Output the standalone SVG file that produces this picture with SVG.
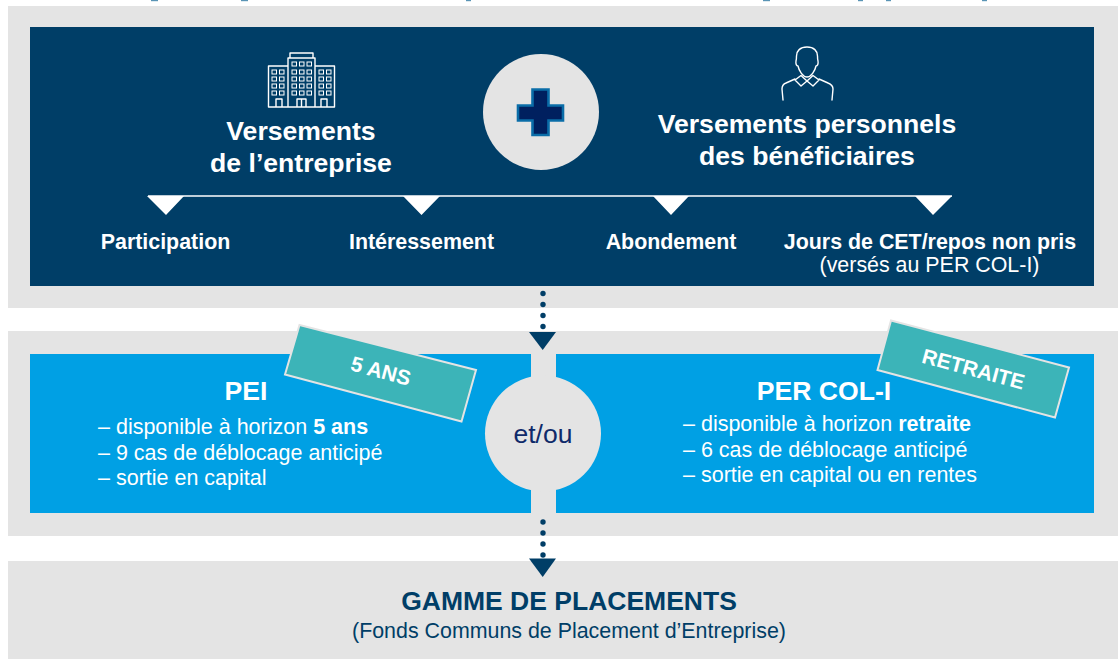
<svg xmlns="http://www.w3.org/2000/svg" width="1118" height="659" viewBox="0 0 1118 659">
<style>
text{font-family:"Liberation Sans",Arial,sans-serif}
.band{fill:#e4e4e4}
.navy{fill:#003e67}
.blue{fill:#00a0e4}
.h{font-weight:700;font-size:26.600px;fill:#fff;text-anchor:middle}
.sub{font-weight:700;font-size:21.400px;fill:#fff;text-anchor:middle}
.b{font-size:21.500px;fill:#fff}
.tag{fill:#3cb4b8;stroke:#e4e4e4;stroke-width:2}
.tagt{font-size:21px;font-weight:700;fill:#fff;text-anchor:middle}
.ic{fill:none;stroke:#fff;stroke-width:1.4;stroke-linejoin:round;stroke-linecap:round}
.w{fill:none;stroke:#fff;stroke-width:1}
.dot{fill:#003e67}
.frag{fill:#5a94b5}
</style>
<defs>
<g id="win3"><rect class="w" x="0" y="0" width="4.500" height="4"/><rect class="w" x="7.500" y="0" width="4.500" height="4"/><rect class="w" x="15" y="0" width="4.500" height="4"/></g>
<g id="win2"><rect class="w" x="0" y="0" width="4.500" height="4"/><rect class="w" x="7.500" y="0" width="4.500" height="4"/></g>
</defs>
<g id="title-fragments">
<rect class="frag" x="151" y="0" width="7" height="1.200"/><rect class="frag" x="241" y="0" width="7" height="1.200"/><rect class="frag" x="466" y="0" width="5" height="1.200"/><rect class="frag" x="763" y="0" width="7" height="1.200"/><rect class="frag" x="858" y="0" width="5" height="1.200"/><rect class="frag" x="886" y="0" width="5" height="1.200"/><rect class="frag" x="982" y="0" width="5" height="1.200"/>
</g>
<g id="bands">
<rect class="band" x="8" y="6" width="1110" height="302"/>
<rect class="band" x="8" y="331" width="1110" height="205"/>
<rect class="band" x="8" y="561" width="1110" height="98"/>
</g>
<g id="versements">
<rect class="navy" x="30" y="27" width="1064" height="259"/>
</g>
<g id="entreprise">
<g id="building">
<path class="ic" d="M288 107H268.500V66H288M315 66H334.500V107H315M288 107V58H315V107H288M290 58V53H313V58M276 107V99H282V107M321 107V99H327V107M297 107V99H306V107M301.500 99V107"/>
<use href="#win2" x="272" y="70"/><use href="#win2" x="272" y="77"/><use href="#win2" x="272" y="84"/><use href="#win2" x="272" y="91"/>
<use href="#win3" x="292" y="62"/><use href="#win3" x="292" y="70"/><use href="#win3" x="292" y="77"/><use href="#win3" x="292" y="84"/><use href="#win3" x="292" y="91"/>
<use href="#win2" x="319" y="70"/><use href="#win2" x="319" y="77"/><use href="#win2" x="319" y="84"/><use href="#win2" x="319" y="91"/>
</g>
<text class="h" x="301" y="140">Versements</text>
<text class="h" x="301" y="172">de l’entreprise</text>
</g>
<g id="plus">
<circle class="band" cx="541" cy="112" r="58"/>
<path d="M532.500 89.500H548.500V105.500H563V120.500H548.500V135H532.500V120.500H518V105.500H532.500Z" fill="#00205f" stroke="#0a6da8" stroke-width="2.600"/>
</g>
<g id="personnels">
<g id="person" class="ic">
<path d="M807 47C800 47 796.500 51 796.500 56C796.500 58 796.500 59.500 796 61C795.500 64 796.500 66 798 66C799 71 803 77 807 77C811 77 815 71 816 66C817.500 66 818.500 64 818 61C817.500 59.500 817.500 58 817.500 56C817.500 51 814 47 807 47Z"/>
<path d="M795 79L786 83C783.500 84 782 86.500 782 89L783 100M819 79L828 83C830.500 84 833 86.500 833 89L832 100"/>
<path d="M795 80L801 75.500L807 81L801 86ZM819 80L813 75.500L807 81L813 86Z"/>
</g>
<text class="h" x="807" y="133">Versements personnels</text>
<text class="h" x="807" y="165">des bénéficiaires</text>
</g>
<g id="connectors">
<path d="M148 196H952" stroke="#fff" stroke-width="1.600" fill="none"/>
<path fill="#fff" d="M147 196H184L166 215ZM403 196H440L421.500 215ZM653 196H689L671 215ZM915 196H952L933 215Z"/>
<g class="dot"><circle cx="543" cy="293.500" r="2.700"/><circle cx="543" cy="304.500" r="2.700"/><circle cx="543" cy="315.500" r="2.700"/><circle cx="543" cy="326.500" r="2.700"/><path d="M529 332H556L542.700 350Z"/></g>
</g>
<g id="labels">
<text class="sub" x="165.500" y="249">Participation</text>
<text class="sub" x="421.500" y="249">Intéressement</text>
<text class="sub" x="671" y="248.500">Abondement</text>
<text class="sub" x="930" y="248.500">Jours de CET/repos non pris</text>
<text x="929.500" y="272" font-size="21.400" fill="#fff" text-anchor="middle">(versés au PER COL-I)</text>
</g>
<g id="pei">
<rect class="blue" x="30" y="354" width="501" height="159"/>
<polygon class="tag" points="299.500,325 476,370 461.500,421.500 285,374.500"/>
<text class="tagt" transform="translate(379 378) rotate(15)" x="0" y="0">5 ANS</text>
<text class="h" x="246" y="400">PEI</text>
<text class="b" x="98" y="434">– disponible à horizon <tspan font-weight="700">5 ans</tspan></text>
<text class="b" x="98" y="460">– 9 cas de déblocage anticipé</text>
<text class="b" x="98" y="485">– sortie en capital</text>
</g>
<g id="per">
<rect class="blue" x="556" y="354" width="538" height="159"/>
<polygon class="tag" points="891,320.500 1069,367.500 1055,417.500 877.500,370"/>
<text class="tagt" transform="translate(971.500 376) rotate(15)" x="0" y="0">RETRAITE</text>
<text class="h" x="824" y="400">PER COL-I</text>
<text class="b" x="683" y="431">– disponible à horizon <tspan font-weight="700">retraite</tspan></text>
<text class="b" x="683" y="457">– 6 cas de déblocage anticipé</text>
<text class="b" x="683" y="482">– sortie en capital ou en rentes</text>
</g>
<g id="etou">
<rect class="band" x="531" y="354" width="25" height="159"/>
<circle class="band" cx="543" cy="433.500" r="58"/>
<text x="543" y="443" font-size="26.500" fill="#0f2a6a" text-anchor="middle">et/ou</text>
</g>
<g id="connector-bottom" class="dot">
<circle cx="543" cy="522" r="2.700"/><circle cx="543" cy="533" r="2.700"/><circle cx="543" cy="544" r="2.700"/><circle cx="543" cy="555" r="2.700"/><path d="M529 558.500H556L542.700 577Z"/>
</g>
<g id="gamme">
<text x="569" y="610" font-size="26.500" font-weight="700" fill="#003e67" text-anchor="middle">GAMME DE PLACEMENTS</text>
<text x="569" y="638" font-size="21.400" fill="#003e67" text-anchor="middle">(Fonds Communs de Placement d’Entreprise)</text>
</g>
</svg>
